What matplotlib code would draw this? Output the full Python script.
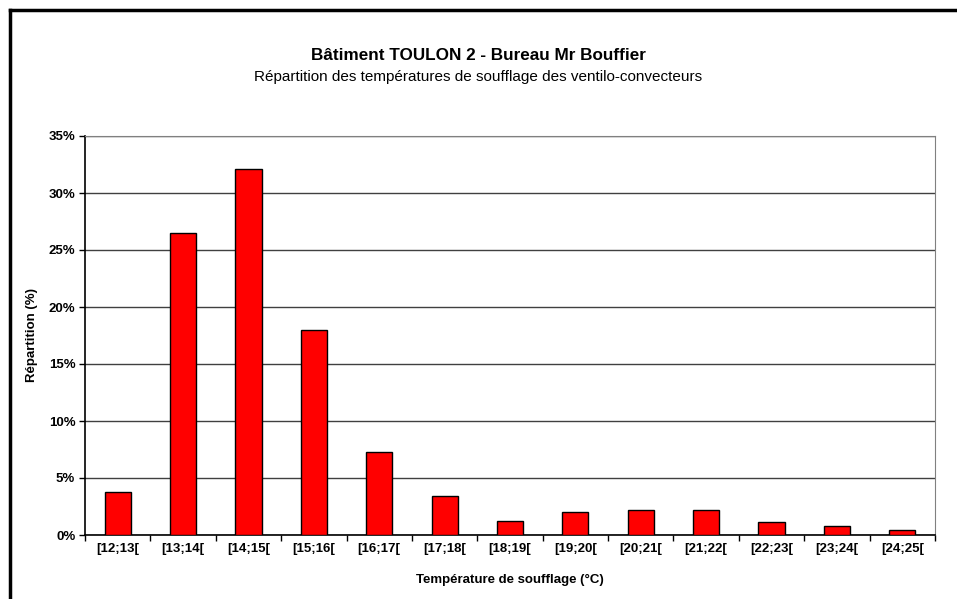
import matplotlib.pyplot as plt
import matplotlib.lines as mlines
import numpy as np

plt.rcParams['font.family'] = ['Liberation Sans', 'DejaVu Sans']

# classes de temperature et repartition (%)
classes = ["[12;13[", "[13;14[", "[14;15[", "[15;16[", "[16;17[", "[17;18[",
           "[18;19[", "[19;20[", "[20;21[", "[21;22[", "[22;23[", "[23;24[",
           "[24;25["]
repartition = [3.75, 26.45, 32.1, 17.95, 7.28, 3.45, 1.22, 2.02, 2.18, 2.18,
               1.12, 0.76, 0.44]
y_ticks = [0, 5, 10, 15, 20, 25, 30, 35]

fig = plt.figure(figsize=(9.57, 5.99), dpi=100)
ax = fig.add_axes([85/957, 64/599, 850/957, 399/599])

x = np.arange(len(classes))
ax.bar(x, repartition, width=0.4, color='#FF0000', edgecolor='black',
       linewidth=1, zorder=3)

ax.set_xlim(-0.5, len(classes) - 0.5)
ax.set_ylim(0, 35)
ax.set_yticks(y_ticks)
ax.set_yticklabels([f"{v}%" for v in y_ticks], fontsize=9.5, fontweight='bold')
ax.set_xticks(x)
ax.set_xticklabels(classes, fontsize=9.5, fontweight='bold')
ax.tick_params(axis='x', length=0, pad=6)
ax.set_xticks(np.arange(-0.5, len(classes)), minor=True)
ax.tick_params(axis='x', which='minor', length=4, width=1, color='black')
ax.tick_params(axis='y', length=4, width=1, pad=3)

ax.grid(axis='y', color='#404040', linewidth=1, zorder=0)
for s in ['top', 'right']:
    ax.spines[s].set_color('#808080')
for s in ['left', 'bottom']:
    ax.spines[s].set_color('black')
    ax.spines[s].set_linewidth(1.2)

ax.set_xlabel("Température de soufflage (°C)", fontsize=9.5, fontweight='bold')
ax.set_ylabel("Répartition (%)", fontsize=9.5, fontweight='bold')
ax.xaxis.set_label_coords(0.5, -45/399)
ax.yaxis.set_label_coords(-53/850, 0.5)
ax.xaxis.label.set_va('center')
ax.yaxis.label.set_va('center')

fig.text(0.5, 1 - 56/599, "Bâtiment TOULON 2 - Bureau Mr Bouffier",
         ha='center', va='center', fontsize=12.3, fontweight='bold')
fig.text(0.5, 1 - 77/599,
         "Répartition des températures de soufflage des ventilo-convecteurs",
         ha='center', va='center', fontsize=11)

# cadre
fig.add_artist(mlines.Line2D([10/957, 10/957], [0, 1 - 10/599],
                             color='black', linewidth=2.5))
fig.add_artist(mlines.Line2D([10/957, 1], [1 - 10/599, 1 - 10/599],
                             color='black', linewidth=2.5))

fig.savefig("out.png", dpi=100)
